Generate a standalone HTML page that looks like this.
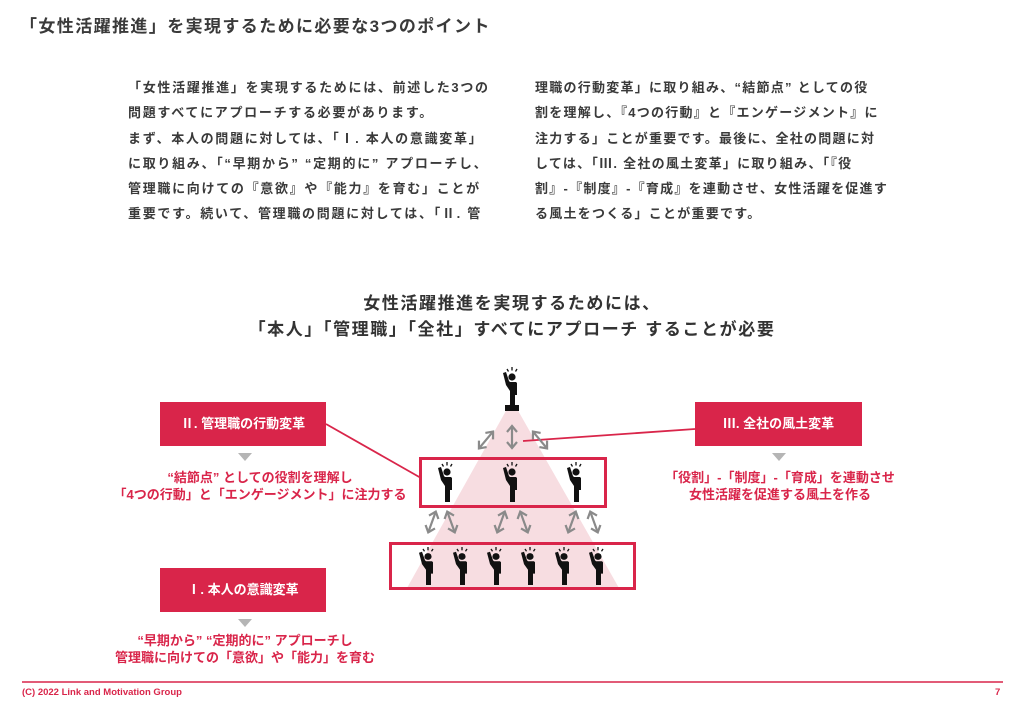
<!DOCTYPE html>
<html><head><meta charset="utf-8"><style>
body{margin:0;width:1024px;height:708px;background:#fff;position:relative;overflow:hidden;font-family:"Liberation Sans","Noto Sans CJK JP",sans-serif;color:#333;}
.a{position:absolute;white-space:nowrap;}
.t{left:20px;top:12px;font-size:17px;font-weight:bold;color:#3a3a3a;letter-spacing:1.4px;}
.p{font-size:13px;font-weight:bold;line-height:25.3px;color:#3a3a3a;letter-spacing:1.7px;}
.h{left:0;width:1024px;text-align:center;font-size:17px;font-weight:bold;color:#333;line-height:26px;letter-spacing:1.6px;}
.box{position:absolute;background:#d9254a;color:#fff;font-size:13px;font-weight:bold;text-align:center;line-height:44px;}
.r{color:#d9254a;font-size:13px;font-weight:bold;text-align:center;line-height:17px;}
</style></head><body>
<div class="a t">「女性活躍推進」を実現するために必要な3つのポイント</div>
<div class="a p" style="left:128px;top:75px">「女性活躍推進」を実現するためには、前述した3つの<br>問題すべてにアプローチする必要があります。<br>まず、本人の問題に対しては、「Ⅰ. 本人の意識変革」<br>に取り組み、「“早期から” “定期的に” アプローチし、<br>管理職に向けての『意欲』や『能力』を育む」ことが<br>重要です。続いて、管理職の問題に対しては、「Ⅱ. 管</div>
<div class="a p" style="left:535px;top:75px;letter-spacing:1.25px">理職の行動変革」に取り組み、“結節点” としての役<br>割を理解し、『4つの行動』と『エンゲージメント』に<br>注力する」ことが重要です。最後に、全社の問題に対<br>しては、「Ⅲ. 全社の風土変革」に取り組み、「『役<br>割』-『制度』-『育成』を連動させ、女性活躍を促進す<br>る風土をつくる」ことが重要です。</div>
<div class="a h" style="top:291px">女性活躍推進を実現するためには、<br>「本人」「管理職」「全社」すべてにアプローチ することが必要</div>

<svg class="a" style="left:0;top:0" width="1024" height="708">
<defs>
<g id="pp" fill="#111">
<circle cx="12" cy="10" r="3.6"/>
<path d="M3 6 L6 5 L9 14 L10 15 L16 15 L17 16 L17 28 L15 28 L15 40 L10 40 L10 24 L6 18 Z"/>
<g stroke="#111" stroke-width="1.3"><line x1="12" y1="0" x2="12" y2="3.5"/><line x1="7" y1="2" x2="8.5" y2="4.5"/><line x1="17" y1="2" x2="15.5" y2="4.5"/></g>
</g>
<g id="ar" stroke="#8a8a8a" stroke-width="2.2" fill="none">
<line x1="0" y1="-11" x2="0" y2="11"/><polyline points="-5,-5 0,-11 5,-5"/><polyline points="-5,5 0,11 5,5"/>
</g>
</defs>
<polygon points="512,400 407,588 619,588" fill="#f7dde1"/>
<line x1="326" y1="424" x2="421" y2="478" stroke="#d9254a" stroke-width="1.8"/>
<line x1="695" y1="429" x2="523" y2="441" stroke="#d9254a" stroke-width="1.8"/>
<use href="#ar" transform="translate(486,440) rotate(40)"/>
<use href="#ar" transform="translate(512,437)"/>
<use href="#ar" transform="translate(540,440) rotate(-40)"/>
<use href="#ar" transform="translate(432,522) rotate(20)"/>
<use href="#ar" transform="translate(451,522) rotate(-20)"/>
<use href="#ar" transform="translate(501,522) rotate(20)"/>
<use href="#ar" transform="translate(524,522) rotate(-20)"/>
<use href="#ar" transform="translate(572,522) rotate(20)"/>
<use href="#ar" transform="translate(594,522) rotate(-20)"/>
<rect x="420.5" y="458.5" width="185" height="48" fill="none" stroke="#d9254a" stroke-width="3"/>
<rect x="390.5" y="543.5" width="244" height="45" fill="none" stroke="#d9254a" stroke-width="3"/>
<use href="#pp" transform="translate(500,367)"/>
<rect x="505" y="405" width="14" height="6" fill="#111"/>
<use href="#pp" transform="translate(435,462)"/>
<use href="#pp" transform="translate(500,462)"/>
<use href="#pp" transform="translate(564,462)"/>
<use href="#pp" transform="translate(416,547) scale(1,0.95)"/>
<use href="#pp" transform="translate(450,547) scale(1,0.95)"/>
<use href="#pp" transform="translate(484,547) scale(1,0.95)"/>
<use href="#pp" transform="translate(518,547) scale(1,0.95)"/>
<use href="#pp" transform="translate(552,547) scale(1,0.95)"/>
<use href="#pp" transform="translate(586,547) scale(1,0.95)"/>
<polygon points="238,453 252,453 245,461" fill="#b5b5b5"/>
<polygon points="772,453 786,453 779,461" fill="#b5b5b5"/>
<polygon points="238,619 252,619 245,627" fill="#b5b5b5"/>
<line x1="22" y1="682" x2="1003" y2="682" stroke="#d9254a" stroke-width="1.5"/>
</svg>

<div class="box" style="left:160px;top:402px;width:166px;height:44px">Ⅱ. 管理職の行動変革</div>
<div class="box" style="left:695px;top:402px;width:167px;height:44px">Ⅲ. 全社の風土変革</div>
<div class="box" style="left:160px;top:568px;width:166px;height:44px">Ⅰ. 本人の意識変革</div>
<div class="a r" style="left:110px;width:300px;top:469px">“結節点” としての役割を理解し<br>「4つの行動」と「エンゲージメント」に注力する</div>
<div class="a r" style="left:630px;width:300px;top:469px">「役割」-「制度」-「育成」を連動させ<br>女性活躍を促進する風土を作る</div>
<div class="a r" style="left:95px;width:300px;top:632px">“早期から” “定期的に” アプローチし<br>管理職に向けての「意欲」や「能力」を育む</div>
<div class="a" style="left:22px;top:687px;font-size:9.5px;font-weight:bold;color:#d9254a">(C) 2022 Link and Motivation Group</div>
<div class="a" style="left:995px;top:687px;font-size:9.5px;font-weight:bold;color:#d9254a">7</div>
</body></html>
